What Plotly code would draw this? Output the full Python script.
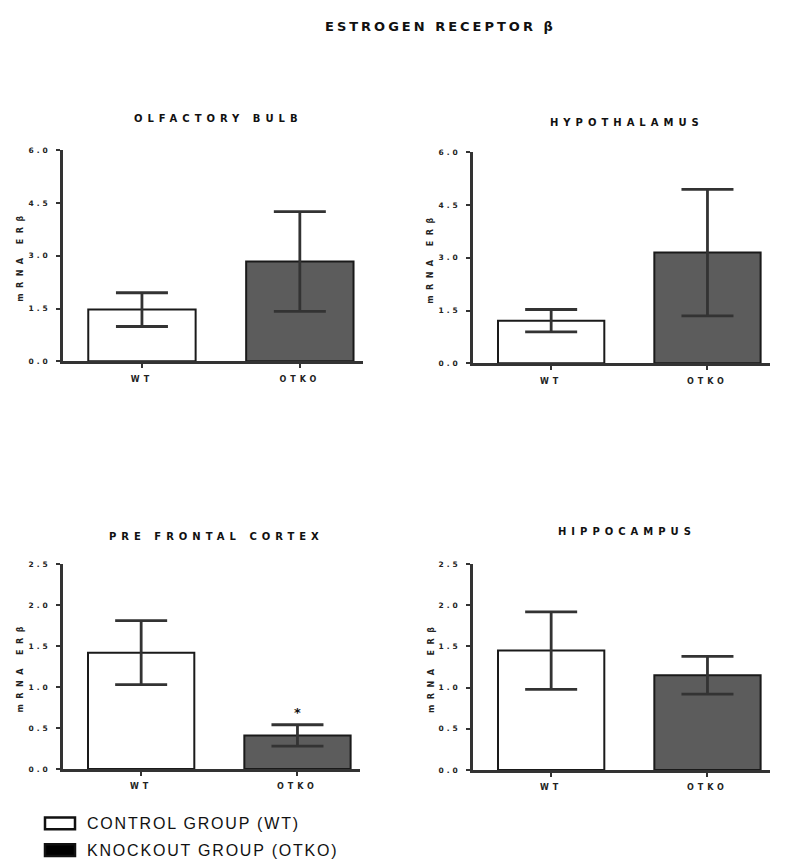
import plotly.graph_objects as go

# ---- data ----
groups = ["WT", "OTKO"]
panel_titles = ["OLFACTORY BULB", "HYPOTHALAMUS", "PRE FRONTAL CORTEX", "HIPPOCAMPUS"]
olfactory_mean = [1.47, 2.84]
olfactory_sem = [0.48, 1.42]
hypothalamus_mean = [1.21, 3.15]
hypothalamus_sem = [0.32, 1.80]
prefrontal_mean = [1.42, 0.41]
prefrontal_sem = [0.39, 0.13]
hippocampus_mean = [1.45, 1.15]
hippocampus_sem = [0.47, 0.23]
top_ticks = [0.0, 1.5, 3.0, 4.5, 6.0]
bottom_ticks = [0.0, 0.5, 1.0, 1.5, 2.0, 2.5]
significance_marker = "*"
legend_labels = ["CONTROL GROUP (WT)", "KNOCKOUT GROUP (OTKO)"]

means = [olfactory_mean, hypothalamus_mean, prefrontal_mean, hippocampus_mean]
sems = [olfactory_sem, hypothalamus_sem, prefrontal_sem, hippocampus_sem]
ticks = [top_ticks, top_ticks, bottom_ticks, bottom_ticks]

W, H = 787, 868
FONT = "DejaVu Sans"
LFONT = "Liberation Sans"
fill_colors = ["#ffffff", "#5c5c5c"]


def spaced(txt, ls, bold=True):
    inner = f"<b>{txt}</b>" if bold else txt
    return f'<span style="letter-spacing:{ls}px">{inner}</span>'


# panel pixel boxes: x0, x1, y_top(max), y_bottom(0)
boxes = [
    (63, 363, 148, 361),
    (473, 770, 150, 363),
    (63, 360, 566, 773),
    (473, 770, 566, 774),
]
title_y = [116, 120, 538, 533]

fig = go.Figure()
for i in range(4):
    x0, x1, yt, yb = boxes[i]
    xa = "x" if i == 0 else f"x{i+1}"
    ya = "y" if i == 0 else f"y{i+1}"
    fig.add_trace(go.Bar(
        x=[0, 1], y=means[i],
        width=0.68,
        marker=dict(color=fill_colors, line=dict(color="#1a1a1a", width=2)),
        error_y=dict(type="data", array=sems[i], visible=True,
                     color="#333333", thickness=2.8, width=26),
        xaxis=xa, yaxis=ya, showlegend=False,
    ))
    key = "" if i == 0 else str(i + 1)
    fig.update_layout(**{
        f"xaxis{key}": dict(
            domain=[x0 / W, x1 / W], range=[-0.50, 1.40],
            tickvals=[0, 1], ticktext=[spaced(g, 4) for g in groups],
            ticks="outside", ticklen=4, tickwidth=1.5, tickcolor="#333",
            showline=True, linecolor="#333", linewidth=2.5,
            showgrid=False, zeroline=False, anchor=ya,
            tickfont=dict(family=FONT, size=8, color="#222"),
            ticklabelstandoff=4,
            fixedrange=True,
        ),
        f"yaxis{key}": dict(
            domain=[1 - yb / H, 1 - yt / H], range=[0, ticks[i][-1]],
            tickvals=ticks[i], ticktext=[spaced(f"{t:.1f}", 3) for t in ticks[i]],
            ticks="outside", ticklen=4, tickwidth=1.5, tickcolor="#333",
            showline=True, linecolor="#333", linewidth=2.5,
            showgrid=False, zeroline=False, anchor=xa,
            tickfont=dict(family=FONT, size=7.5, color="#222"),
            ticklabelstandoff=4,
            fixedrange=True,
        ),
    })
    # y-axis title
    fig.add_annotation(
        text=spaced("mRNA ERβ", 5.5), xref="paper", yref="paper",
        x=(x0 - 42) / W, y=1 - ((yt + yb) / 2) / H, textangle=-90,
        showarrow=False, font=dict(family=FONT, size=8, color="#222"),
        xanchor="center", yanchor="middle",
    )
    # panel title
    fig.add_annotation(
        text=spaced(panel_titles[i], 5), xref="paper", yref="paper",
        x=((x0 + x1) / 2 + 5) / W, y=1 - title_y[i] / H,
        showarrow=False, font=dict(family=FONT, size=10, color="#111"),
        xanchor="center", yanchor="middle",
    )

# significance marker above OTKO in prefrontal cortex
fig.add_annotation(
    text=f"<b>{significance_marker}</b>", x=1, y=prefrontal_mean[1] + prefrontal_sem[1] + 0.03,
    xref="x3", yref="y3", showarrow=False, yanchor="bottom",
    font=dict(family=FONT, size=13, color="#111"),
)

# main title
fig.add_annotation(
    text=spaced("ESTROGEN RECEPTOR β", 3), xref="paper", yref="paper",
    x=441 / W, y=1 - 23 / H, showarrow=False,
    font=dict(family=FONT, size=13, color="#111"), xanchor="center", yanchor="middle",
)

# legend
legend_y = [828, 855]
for j, lab in enumerate(legend_labels):
    yc = legend_y[j]
    fig.add_shape(type="rect", xref="paper", yref="paper",
                  x0=45 / W, x1=75 / W, y0=1 - (yc + 6) / H, y1=1 - (yc - 6) / H,
                  line=dict(color="#111", width=2.5),
                  fillcolor="#ffffff" if j == 0 else "#000000")
    fig.add_annotation(text=spaced(lab, 1.8, bold=False),
                       xref="paper", yref="paper",
                       x=85 / W, y=1 - yc / H, showarrow=False,
                       xanchor="left", yanchor="middle",
                       font=dict(family=LFONT, size=16, color="#111"))

fig.update_layout(
    width=W, height=H,
    margin=dict(l=0, r=0, t=0, b=0),
    paper_bgcolor="white", plot_bgcolor="white",
)

fig.write_html(
    "out.html",
    config={"displayModeBar": False},
    post_script="document.body.style.margin='0px';document.body.style.overflow='hidden';",
)
